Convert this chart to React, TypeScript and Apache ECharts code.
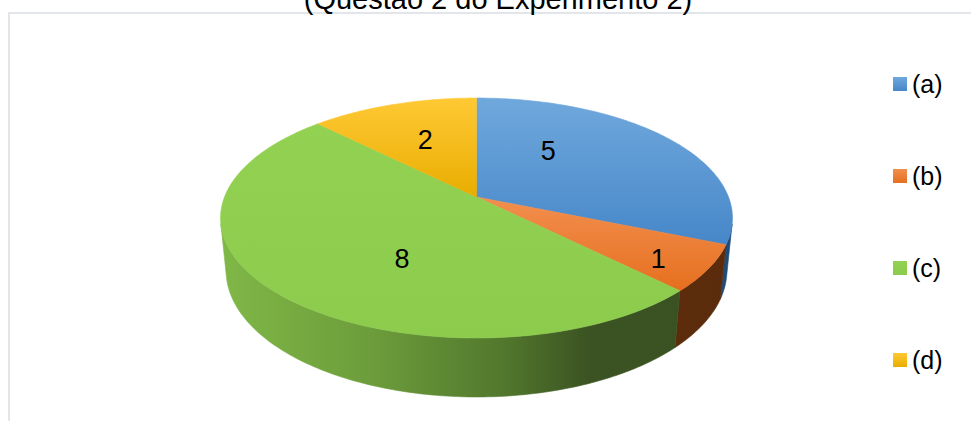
import React, { useEffect, useRef } from "react";
import * as echarts from "echarts";

// ---- data ----
const TITLE = "(Questão 2 do Experimento 2)";
const CATEGORIES = ["(a)", "(b)", "(c)", "(d)"];
const VALUES = [5, 1, 8, 2];

// ---- styles ----
const FONT = '"Liberation Sans", Arial, sans-serif';
const TOP_COLORS = [
  ["#6fa8dc", "#4787c9"],
  ["#f28f4e", "#e66f1f"],
  ["#93d152", "#8ccb4c"],
  ["#ffc935", "#e9ad00"],
];
const WALL_STOPS = [
  [[0, "#2e5f93"], [1, "#1f4b78"]],
  [[0, "#6a3410"], [1, "#5a2b0c"]],
  [[0, "#80b847"], [0.3, "#6c9c3b"], [0.55, "#52782d"], [0.72, "#3b5322"], [1, "#3a5221"]],
  [[0, "#b58600"], [1, "#9a7200"]],
];
// label placement inside each slice: fraction of radius, fraction along slice span
const LABEL_LAYOUT = [
  { r: 0.52, t: 0.32 },
  { r: 0.82, t: 0.62 },
  { r: 0.56, t: 0.41 },
  { r: 0.58, t: 0.5 },
];

// ---- 3D projection layout ----
const CX = 476.5;
const CY = 197;
const SCALE = 252;
const ALPHA = Math.asin(0.4615);
const DIST = 5.07;
const DEPTH = 0.237;

function project(X: number, Y: number, Z: number): number[] {
  const sa = Math.sin(ALPHA);
  const ca = Math.cos(ALPHA);
  const d = 1 - (Y * sa + Z * ca) / DIST;
  return [CX + (SCALE * X) / d, CY + (SCALE * (Z * sa - Y * ca)) / d];
}
function discPoint(theta: number, r: number, Y: number) {
  const t = (theta * Math.PI) / 180;
  return project(r * Math.sin(t), Y, -r * Math.cos(t));
}
// visible wall range (silhouette of the cylinder)
const CAM_Z = DIST * Math.cos(ALPHA);
const SIL = (Math.acos(-1 / CAM_Z) * 180) / Math.PI;
const VIS_START = SIL;
const VIS_END = 360 - SIL;

export default function App() {
  const ref = useRef<HTMLDivElement>(null);
  useEffect(() => {
    if (!ref.current) return;
    const chart = echarts.init(ref.current, undefined, { renderer: "svg" });
    const total = VALUES.reduce((a, b) => a + b, 0);
    const starts: number[] = [];
    let acc = 0;
    VALUES.forEach((v) => {
      starts.push((acc / total) * 360);
      acc += v;
    });

    const renderItem = (params: any, api: any) => {
      const i = params.dataIndex;
      const v = api.value(0);
      const a0 = starts[i];
      const a1 = a0 + (v / total) * 360;
      const children: any[] = [];

      // wall
      const w0 = Math.max(a0, VIS_START);
      const w1 = Math.min(a1, VIS_END);
      if (w1 > w0) {
        const topPts: number[][] = [];
        const botPts: number[][] = [];
        const n = Math.max(2, Math.ceil(w1 - w0));
        for (let k = 0; k <= n; k++) {
          const th = w0 + ((w1 - w0) * k) / n;
          topPts.push(discPoint(th, 1, 0));
          botPts.push(discPoint(th, 1, -DEPTH));
        }
        const wallFill = new echarts.graphic.LinearGradient(
          220, 0, 733, 0,
          WALL_STOPS[i].map((s) => ({ offset: s[0] as number, color: s[1] as string })),
          true
        );
        children.push({
          type: "polygon",
          z2: 1,
          shape: { points: topPts.concat(botPts.reverse()) },
          style: { fill: wallFill, stroke: wallFill, lineWidth: 0.6 },
        });
      }

      // top face
      const pts: number[][] = [project(0, 0, 0)];
      const n = Math.max(2, Math.ceil(a1 - a0));
      for (let k = 0; k <= n; k++) {
        pts.push(discPoint(a0 + ((a1 - a0) * k) / n, 1, 0));
      }
      const topFill = new echarts.graphic.LinearGradient(0, 0, 0, 1, [
        { offset: 0, color: TOP_COLORS[i][0] },
        { offset: 1, color: TOP_COLORS[i][1] },
      ]);
      children.push({
        type: "polygon",
        z2: 10,
        shape: { points: pts },
        style: { fill: topFill, stroke: topFill, lineWidth: 0.6 },
      });

      // label
      const lay = LABEL_LAYOUT[i];
      const lp = discPoint(a0 + (a1 - a0) * lay.t, lay.r, 0);
      children.push({
        type: "text",
        z2: 20,
        style: {
          text: String(v),
          x: lp[0],
          y: lp[1],
          fill: "#000",
          font: `27px ${FONT}`,
          align: "center",
          verticalAlign: "middle",
        },
      });
      return { type: "group", children };
    };

    chart.setOption({
      animation: false,
      backgroundColor: "#ffffff",
      graphic: [
        {
          type: "rect",
          shape: { x: 9, y: 13, width: 1000, height: 440 },
          style: { fill: "none", stroke: "#d9dde3", lineWidth: 1.5 },
          z: -1,
        },
        {
          type: "text",
          style: {
            text: TITLE,
            x: 498,
            y: -1,
            fill: "#000",
            font: `29px ${FONT}`,
            align: "center",
            verticalAlign: "middle",
          },
        },
      ],
      legend: {
        data: CATEGORIES,
        orient: "vertical",
        left: 893,
        top: 71.5,
        padding: 0,
        itemWidth: 14,
        itemHeight: 14,
        itemGap: 67,
        icon: "rect",
        textStyle: { fontSize: 25, fontFamily: FONT, color: "#000", lineHeight: 25 },
      },
      series: [
        {
          type: "custom",
          coordinateSystem: "none",
          renderItem,
          data: VALUES.map((v, i) => ({ name: CATEGORIES[i], value: [v] })),
          silent: true,
        },
        {
          type: "pie",
          center: [-200, -200],
          radius: [0, 1],
          silent: true,
          label: { show: false },
          labelLine: { show: false },
          data: VALUES.map((v, i) => ({
            name: CATEGORIES[i],
            value: v,
            itemStyle: {
              color: new echarts.graphic.LinearGradient(0, 0, 0, 1, [
                { offset: 0, color: TOP_COLORS[i][0] },
                { offset: 1, color: TOP_COLORS[i][1] },
              ]),
            },
          })),
        },
      ],
    });
    return () => chart.dispose();
  }, []);
  return (
    <div
      ref={ref}
      style={{ position: "fixed", left: 0, top: 0, width: 971, height: 421 }}
    />
  );
}
